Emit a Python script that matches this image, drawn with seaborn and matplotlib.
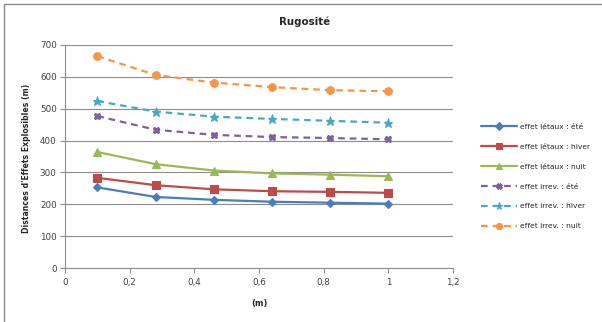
import matplotlib
matplotlib.use("Agg")
import matplotlib.pyplot as plt
import matplotlib.patches as mpatches
import seaborn as sns
import pandas as pd

# Roughness values (m)
rugosite = [0.1, 0.28, 0.46, 0.64, 0.82, 1.0]

# Effect distances (m)
letaux_ete = [253, 223, 214, 208, 205, 202]
letaux_hiver = [283, 260, 247, 241, 239, 236]
letaux_nuit = [364, 326, 306, 297, 293, 288]
irrev_ete = [477, 434, 418, 411, 408, 404]
irrev_hiver = [524, 491, 475, 468, 462, 456]
irrev_nuit = [665, 606, 582, 568, 558, 555]

series_names = [
    "effet létaux : été",
    "effet létaux : hiver",
    "effet létaux : nuit",
    "effet irrev. : été",
    "effet irrev. : hiver",
    "effet irrev. : nuit",
]
series_values = [letaux_ete, letaux_hiver, letaux_nuit, irrev_ete, irrev_hiver, irrev_nuit]

colors = ["#4A7EBB", "#BE4B48", "#98B954", "#7D60A0", "#46AAC5", "#F79646"]
markers = ["D", "s", "^", "X", "*", "o"]
msizes = [4.5, 5.5, 5.5, 5, 6.5, 5.5]
dashed = [False, False, False, True, True, True]

rows = []
for name, vals in zip(series_names, series_values):
    for x, v in zip(rugosite, vals):
        rows.append({"Rugosité": x, "Distance": v, "Série": name})
df = pd.DataFrame(rows)

sns.set_theme(style="white")
plt.rcParams["font.family"] = ["DejaVu Sans"]

fig = plt.figure(figsize=(6.02, 3.22), dpi=100)
ax = fig.add_axes([65 / 602, 1 - 268 / 322, 388 / 602, 223 / 322])

for name, c, m, ms, d in zip(series_names, colors, markers, msizes, dashed):
    sub = df[df["Série"] == name]
    sns.lineplot(
        data=sub, x="Rugosité", y="Distance", ax=ax, color=c, marker=m,
        markersize=ms, markeredgecolor=c, markeredgewidth=0.8, linewidth=1.6,
        linestyle=(0, (3, 2.2)) if d else "-", label=name,
    )

ax.set_xlim(0, 1.2)
ax.set_ylim(0, 700)
ax.set_xticks([0, 0.2, 0.4, 0.6, 0.8, 1.0, 1.2])
ax.set_xticklabels(["0", "0,2", "0,4", "0,6", "0,8", "1", "1,2"])
ax.set_yticks(range(0, 701, 100))
ax.yaxis.grid(True, color="#8C8C8C", linewidth=0.8)
ax.xaxis.grid(False)
ax.set_axisbelow(True)
for s in ["top", "right"]:
    ax.spines[s].set_visible(False)
for s in ["left", "bottom"]:
    ax.spines[s].set_color("#8C8C8C")
    ax.spines[s].set_linewidth(0.8)
ax.tick_params(axis="both", which="both", length=3.5, width=0.8, color="#8C8C8C",
               labelsize=6.3, labelcolor="#404040", direction="out",
               bottom=True, left=True)
ax.tick_params(axis="y", pad=2.5)
ax.tick_params(axis="x", pad=3.5)

ax.set_xlabel("(m)", fontsize=6, fontweight="bold")
ax.set_ylabel("Distances d'Effets Explosibles (m)", fontsize=5.6, fontweight="bold")
ax.xaxis.set_label_coords((259 - 65) / 388, (268 - 299) / 223)
ax.yaxis.set_label_coords((31 - 65) / 388, 0.49)
fig.text(305 / 602, 1 - 22 / 322, "Rugosité", ha="center", va="center",
         fontsize=7.4, fontweight="bold")

ax.legend(loc="center left", bbox_to_anchor=((481 - 65) / 388, (268 - 176.5) / 223),
          frameon=False, fontsize=5.4, handlelength=4.8, labelspacing=1.82,
          handletextpad=0.4, borderaxespad=0, borderpad=0, markerscale=0.8)

# chart frame: only the top and left edges fall inside the image
fig.patches.append(mpatches.Rectangle((4 / 602, -0.05), 1.1, 1.05 - 4 / 322,
                                      transform=fig.transFigure, fill=False,
                                      edgecolor="#8C8C8C", linewidth=1.0))

fig.savefig("out.png", dpi=100)
